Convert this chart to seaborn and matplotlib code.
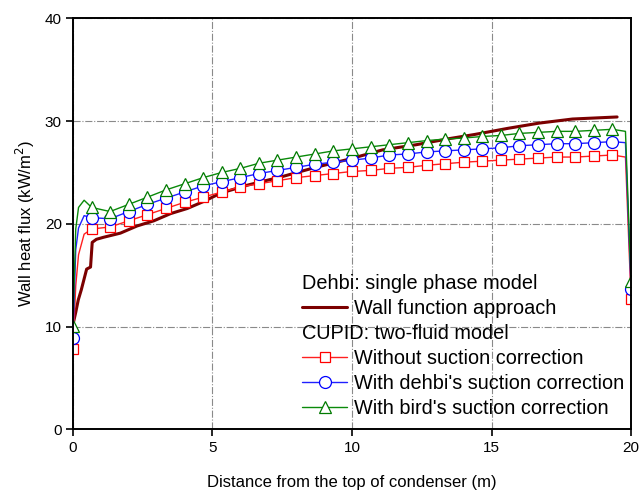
import matplotlib
matplotlib.use("Agg")
import matplotlib.pyplot as plt
import seaborn as sns
import numpy as np

# ---- data ----
# Dehbi single phase model, wall function approach
x_dehbi = [0.0, 0.1, 0.19, 0.3, 0.49, 0.63, 0.69, 0.84, 1.1, 1.7, 2.3, 2.9, 3.5, 4.1, 4.7,
           5.3, 6.3, 7.5, 8.7, 9.9, 11.1, 12.3, 13.5, 14.4, 15.6, 16.7, 17.9, 19.5]
y_dehbi = [10.2, 11.4, 12.6, 13.6, 15.6, 15.8, 18.2, 18.5, 18.7, 19.1, 19.8, 20.3, 21.0, 21.5, 22.2,
           23.0, 23.8, 24.6, 25.5, 26.3, 27.2, 27.7, 28.3, 28.7, 29.3, 29.8, 30.2, 30.4]

# CUPID two-fluid model (x positions of the computed points)
x_cupid = [0.0, 0.1, 0.2, 0.4,
           0.67, 1.33, 2.0, 2.67, 3.33, 4.0, 4.67, 5.33, 6.0, 6.67,
           7.33, 8.0, 8.67, 9.33, 10.0, 10.67, 11.33, 12.0, 12.67, 13.33,
           14.0, 14.67, 15.33, 16.0, 16.67, 17.33, 18.0, 18.67, 19.33,
           19.8, 20.0]
y_no_suction = [7.8, 14.0, 17.0, 19.0,
                19.5, 19.7, 20.3, 20.9, 21.5, 22.1, 22.6, 23.1, 23.6, 23.9,
                24.2, 24.5, 24.7, 24.9, 25.1, 25.2, 25.4, 25.5, 25.7, 25.85,
                26.0, 26.1, 26.2, 26.3, 26.4, 26.5, 26.5, 26.6, 26.7,
                26.5, 12.7]
y_dehbi_suction = [8.9, 17.5, 19.6, 20.8,
                   20.6, 20.5, 21.2, 21.9, 22.5, 23.1, 23.7, 24.1, 24.5, 24.9,
                   25.2, 25.5, 25.8, 26.0, 26.2, 26.4, 26.7, 26.8, 27.0, 27.1,
                   27.2, 27.3, 27.4, 27.6, 27.7, 27.8, 27.8, 27.9, 28.0,
                   27.9, 13.7]
y_bird_suction = [10.1, 19.5, 21.6, 22.3,
                  21.6, 21.2, 21.9, 22.6, 23.3, 23.9, 24.5, 25.0, 25.4, 25.9,
                  26.2, 26.5, 26.8, 27.1, 27.3, 27.5, 27.7, 27.9, 28.1, 28.25,
                  28.35, 28.5, 28.6, 28.8, 28.9, 29.0, 29.0, 29.1, 29.2,
                  29.0, 14.4]
mark_idx = [0] + list(range(4, 33)) + [34]

labels = ["Wall function approach", "Without suction correction",
          "With dehbi's suction correction", "With bird's suction correction"]
headers = ["Dehbi: single phase model", "CUPID: two-fluid model"]

xticks = [0, 5, 10, 15, 20]
yticks = [0, 10, 20, 30, 40]

# ---- style ----
sns.set_theme(style="ticks")
plt.rcParams['font.family'] = ['Liberation Sans', 'DejaVu Sans']
plt.rcParams['text.color'] = 'black'
plt.rcParams['axes.labelcolor'] = 'black'

fig = plt.figure(figsize=(6.4, 4.9), dpi=100)
ax = fig.add_axes([0.114, 0.1235, 0.872, 0.8392])

sns.lineplot(x=x_dehbi, y=y_dehbi, ax=ax, color="#7B0000", lw=2.2,
             label=labels[0], zorder=3)
sns.lineplot(x=x_cupid, y=y_no_suction, ax=ax, color="#FF2020", lw=1.0,
             marker="s", markevery=mark_idx, ms=7.4, mfc="white", mec="#FF0000",
             mew=0.9, label=labels[1], zorder=4)
sns.lineplot(x=x_cupid, y=y_dehbi_suction, ax=ax, color="#2020FF", lw=1.0,
             marker="o", markevery=mark_idx, ms=8.6, mfc="white", mec="#0000FF",
             mew=0.9, label=labels[2], zorder=4)
sns.lineplot(x=x_cupid, y=y_bird_suction, ax=ax, color="#0A8A0A", lw=1.0,
             marker="^", markevery=mark_idx, ms=8.6, mfc="white", mec="#007A00",
             mew=0.9, label=labels[3], zorder=4)

ax.set_xlim(0, 20)
ax.set_ylim(0, 40)
ax.set_xticks(xticks)
ax.set_yticks(yticks)
ax.grid(True, color="#8A8A8A", linestyle="-.", linewidth=0.8)
ax.set_axisbelow(True)
for s in ax.spines.values():
    s.set_linewidth(1.4)
    s.set_color("black")
    s.set_zorder(5)
ax.tick_params(axis="both", direction="out", length=5, width=1.2,
               labelsize=11, colors="black", pad=3)
ax.set_xlabel("Distance from the top of condenser (m)", fontsize=12, labelpad=15, color="black")
ax.set_ylabel("Wall heat flux (kW/m$^2$)", fontsize=12, labelpad=6, color="black")

# ---- legend with group headers ----
h, l = ax.get_legend_handles_labels()
blank = matplotlib.lines.Line2D([], [], linestyle="none", marker=None)
handles = [blank, h[0], blank, h[1], h[2], h[3]]
texts = [headers[0], l[0], headers[1], l[1], l[2], l[3]]
leg = ax.legend(handles, texts, loc="upper left", bbox_to_anchor=(0.411, 0.378),
                frameon=False, fontsize=14.3, handlelength=2.25, handletextpad=0.33,
                labelspacing=0.30, borderpad=0, borderaxespad=0, labelcolor="black")
for vpack in leg._legend_handle_box.get_children():
    for hpack in vpack.get_children():
        da, ta = hpack.get_children()
        if ta.get_children()[0].get_text() in headers:
            da.width = 0
            hpack.sep = 0

fig.savefig("out.png", dpi=100)
